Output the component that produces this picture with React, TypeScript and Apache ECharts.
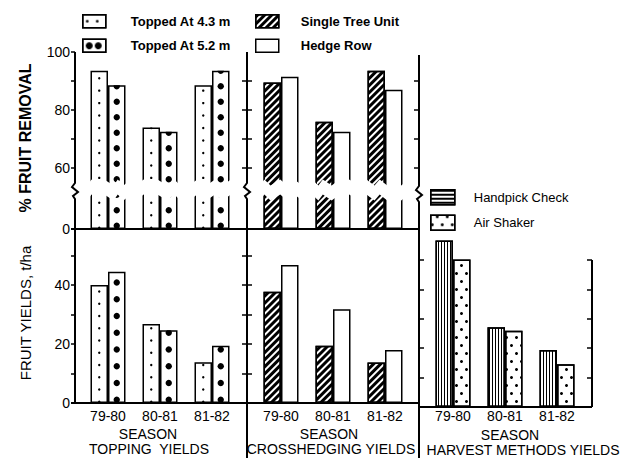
import React, { useEffect, useRef } from 'react';
import * as echarts from 'echarts';

// ---------- data ----------
const seasons = ['79-80', '80-81', '81-82'];

const N43 = 'Topped At 4.3 m';
const N52 = 'Topped At 5.2 m';
const NST = 'Single Tree Unit';
const NHR = 'Hedge Row';
const NHP = 'Handpick Check';
const NAS = 'Air Shaker';

// % fruit removal
const removalTopped43 = [93.5, 74, 88.5];
const removalTopped52 = [88.5, 72.5, 93.5];
const removalSingleTree = [89.5, 76, 93.5];
const removalHedgeRow = [91.5, 72.5, 87];

// fruit yields, t/ha
const yieldTopped43 = [40, 26.8, 13.8];
const yieldTopped52 = [44.5, 24.7, 19.4];
const yieldSingleTree = [37.7, 19.4, 13.7];
const yieldHedgeRow = [46.8, 31.8, 18];
const yieldHandpick = [56.6, 27.1, 19.4];
const yieldAirShaker = [50.2, 25.9, 14.5];

// ticks / labels
const removalLabels = [0, 60, 80, 100];
const removalTicks = [60, 70, 80, 90, 100];
const removalDividerTicks = [60, 70, 80, 90];
const yieldLabels = [0, 20, 40];
const yieldTicks = [10, 20, 30, 40, 50];

// ---------- styles ----------
const FONT = '"Liberation Sans", Arial, sans-serif';
const BLACK = '#000';

const hatchDecal = {
  symbol: 'rect', symbolSize: 1, color: BLACK, backgroundColor: '#fff',
  dashArrayX: [1, 0], dashArrayY: [3, 2], rotation: -Math.PI / 4,
};
const vlineDecal = {
  symbol: 'rect', symbolSize: 1, color: BLACK, backgroundColor: '#fff',
  dashArrayX: [1, 2], dashArrayY: [1, 0],
};
const hlineDecal = {
  symbol: 'rect', symbolSize: 1, color: BLACK, backgroundColor: '#fff',
  dashArrayX: [1, 0], dashArrayY: [2, 2],
};
const shakerDecal = {
  symbol: 'circle', symbolSize: 1, color: BLACK, backgroundColor: '#fff',
  dashArrayX: [[3, 7], [0, 5, 3, 2]], dashArrayY: [3, 5],
};
const legend43Decal = {
  symbol: 'circle', symbolSize: 0.9, color: BLACK, backgroundColor: '#fff',
  dashArrayX: [[0, 3, 3, 4]], dashArrayY: [0, 5, 3, 5],
};
const legend52Decal = {
  symbol: 'circle', symbolSize: 1, color: BLACK, backgroundColor: '#fff',
  dashArrayX: [[0, 3, 7, 2, 7, 4]], dashArrayY: [0, 3, 7, 3],
};

const whiteItem = { color: '#fff', borderColor: BLACK, borderWidth: 1.5 };
const BAR_W = 17.5;

const removalBreaks = [{ start: 11, end: 55, gap: 5 }];
const breakArea = {
  show: true,
  itemStyle: { color: '#fff', borderWidth: 0, opacity: 1 },
  zigzagAmplitude: 3,
  zigzagMinSpan: 4,
  zigzagMaxSpan: 10,
  zigzagZ: 50,
  expandOnClick: false,
};

function yAx(gridIndex: number, position: string, offset: number, extra: any) {
  return {
    type: 'value', gridIndex, position, offset,
    axisLine: { show: false }, splitLine: { show: false },
    axisLabel: { show: false },
    axisTick: { show: false },
    ...extra,
  };
}
function ticks(values: number[], inside: boolean, length = 5) {
  return { show: true, inside, length, customValues: values, lineStyle: { color: BLACK, width: 1.5 } };
}
function labels(values: number[]) {
  return { show: true, customValues: values, fontSize: 14, color: BLACK, fontFamily: FONT, margin: 5 };
}

function topAxis(gridIndex: number, position: string, offset: number, extra: any, withArea: boolean) {
  return yAx(gridIndex, position, offset, {
    min: 0, max: 100, breaks: removalBreaks,
    breakArea: withArea ? breakArea : { show: false },
    ...extra,
  });
}

function dots(name: string, data: number[], xi: number, yi: number, size: number, margin: number) {
  return {
    type: 'pictorialBar', name, data, xAxisIndex: xi, yAxisIndex: yi,
    symbol: 'circle', symbolSize: [size, size], symbolRepeat: true, symbolMargin: margin,
    symbolPosition: 'start', symbolClip: true,
    barWidth: BAR_W, barGap: '0%', z: 3,
    itemStyle: { color: BLACK },
  };
}
function bar(name: string, data: number[], xi: number, yi: number, item: any, clip = true) {
  return {
    type: 'bar', name, data, xAxisIndex: xi, yAxisIndex: yi,
    barWidth: BAR_W, barGap: '0%', clip, itemStyle: item,
  };
}

// ---------- frame geometry (non-data decoration) ----------
const TOP = 52, Y0_TOP = 229, Y0_BOT = 403, Y0_HARV = 407, BOTTOM = 458;
const XL = 75, XD1 = 247, XD2 = 419, XR = 592;

function squiggleAxis(x: number, y1: number, y2: number, s: number) {
  return [[x, y1], [x, s], [x - 3, s + 4], [x + 3, s + 9], [x - 2, s + 13], [x, s + 16], [x, y2]];
}
const lineStyle = { stroke: BLACK, lineWidth: 2, fill: null };

function txt(x: number, y: number, text: string, font: string, rotation = 0) {
  return {
    type: 'text', x, y, rotation, silent: true,
    style: { text, font, fill: BLACK, textAlign: 'center', align: 'center', textVerticalAlign: 'middle', verticalAlign: 'middle' },
  };
}

const xLabel = (margin: number) => ({ fontSize: 14, color: BLACK, fontFamily: FONT, margin });

const option: any = {
  animation: false,
  backgroundColor: '#fff',
  textStyle: { fontFamily: FONT, color: BLACK },
  legend: [
    {
      data: [N43, N52], orient: 'vertical', left: 82, top: 14, padding: 0,
      itemWidth: 23, itemHeight: 13, itemGap: 10, icon: 'rect', selectedMode: false,
      itemStyle: { borderColor: BLACK, borderWidth: 1.5 },
      textStyle: { fontSize: 13, fontWeight: 'bold', color: BLACK, fontFamily: FONT, padding: [0, 0, 0, 20] },
    },
    {
      data: [NST, NHR], orient: 'vertical', left: 255, top: 14, padding: 0,
      itemWidth: 23, itemHeight: 13, itemGap: 10, icon: 'rect', selectedMode: false,
      itemStyle: { borderColor: BLACK, borderWidth: 1.5 },
      textStyle: { fontSize: 13, fontWeight: 'bold', color: BLACK, fontFamily: FONT, padding: [0, 0, 0, 17] },
    },
    {
      data: [NHP, NAS], orient: 'vertical', left: 430, top: 189, padding: 0,
      itemWidth: 24, itemHeight: 15, itemGap: 9, icon: 'rect', selectedMode: false,
      itemStyle: { borderColor: BLACK, borderWidth: 1.5 },
      textStyle: { fontSize: 13, color: BLACK, fontFamily: FONT, padding: [0, 0, 0, 14] },
    },
  ],
  grid: [
    { left: 82, top: TOP, width: 156, height: Y0_TOP - TOP },
    { left: 255, top: TOP, width: 156, height: Y0_TOP - TOP },
    { left: 82, top: Y0_TOP, width: 156, height: Y0_BOT - Y0_TOP },
    { left: 255, top: Y0_TOP, width: 156, height: Y0_BOT - Y0_TOP },
    { left: 427, top: 260, width: 156, height: Y0_HARV - 260 },
    { left: 0, top: 0, width: 1, height: 1 },
  ],
  xAxis: [
    { type: 'category', gridIndex: 0, data: seasons, show: false },
    { type: 'category', gridIndex: 1, data: seasons, show: false },
    { type: 'category', gridIndex: 2, data: seasons, axisLine: { show: false }, axisTick: { show: false }, axisLabel: xLabel(6) },
    { type: 'category', gridIndex: 3, data: seasons, axisLine: { show: false }, axisTick: { show: false }, axisLabel: xLabel(6) },
    { type: 'category', gridIndex: 4, data: seasons, axisLine: { show: false }, axisTick: { show: false }, axisLabel: xLabel(2) },
    { type: 'category', gridIndex: 5, data: seasons, show: false },
  ],
  yAxis: [
    topAxis(0, 'left', 7, { axisLabel: labels(removalLabels), axisTick: ticks(removalTicks, false, 4) }, true), // 0
    topAxis(0, 'right', 9, { axisTick: ticks(removalDividerTicks, true) }, false), // 1
    topAxis(1, 'left', 8, { axisTick: ticks(removalDividerTicks, true) }, true), // 2
    topAxis(1, 'right', 8, { axisTick: ticks(removalDividerTicks, true) }, false), // 3
    yAx(2, 'left', 7, { min: 0, max: 59, axisLabel: labels(yieldLabels), axisTick: ticks(yieldTicks, false, 4) }), // 4
    yAx(2, 'right', 9, { min: 0, max: 59, axisTick: ticks(yieldTicks, true) }), // 5
    yAx(3, 'left', 8, { min: 0, max: 59, axisTick: ticks(yieldTicks, true) }), // 6
    yAx(4, 'left', 8, { min: 0, max: 50, axisTick: ticks(yieldTicks, true) }), // 7
    yAx(4, 'right', 9, { min: 0, max: 50, axisTick: ticks(yieldTicks, true) }), // 8
    { type: 'value', gridIndex: 5, show: false }, // 9
  ],
  series: [
    // legend swatches
    { type: 'bar', name: N43, data: [], xAxisIndex: 5, yAxisIndex: 9, itemStyle: { ...whiteItem, decal: legend43Decal } },
    { type: 'bar', name: N52, data: [], xAxisIndex: 5, yAxisIndex: 9, itemStyle: { ...whiteItem, decal: legend52Decal } },
    { type: 'bar', name: NST, data: [], xAxisIndex: 5, yAxisIndex: 9, itemStyle: { ...whiteItem, decal: hatchDecal } },
    { type: 'bar', name: NHR, data: [], xAxisIndex: 5, yAxisIndex: 9, itemStyle: { ...whiteItem } },
    { type: 'bar', name: NHP, data: [], xAxisIndex: 5, yAxisIndex: 9, itemStyle: { ...whiteItem, decal: hlineDecal } },
    { type: 'bar', name: NAS, data: [], xAxisIndex: 5, yAxisIndex: 9, itemStyle: { ...whiteItem, decal: shakerDecal } },

    // topping: % fruit removal
    bar(N43, removalTopped43, 0, 0, whiteItem),
    bar(N52, removalTopped52, 0, 0, whiteItem),
    dots(N43, removalTopped43, 0, 0, 2.5, 5),
    dots(N52, removalTopped52, 0, 0, 6.5, 5.2),
    // crosshedging: % fruit removal
    bar(NST, removalSingleTree, 1, 2, { ...whiteItem, decal: hatchDecal }),
    bar(NHR, removalHedgeRow, 1, 2, whiteItem),

    // topping yields
    bar(N43, yieldTopped43, 2, 4, whiteItem),
    bar(N52, yieldTopped52, 2, 4, whiteItem),
    dots(N43, yieldTopped43, 2, 4, 2.5, 5),
    dots(N52, yieldTopped52, 2, 4, 6.5, 5.2),
    // crosshedging yields
    bar(NST, yieldSingleTree, 3, 6, { ...whiteItem, decal: hatchDecal }),
    bar(NHR, yieldHedgeRow, 3, 6, whiteItem),
    // harvest method yields
    bar(NHP, yieldHandpick, 4, 7, { ...whiteItem, decal: vlineDecal }, false),
    bar(NAS, yieldAirShaker, 4, 7, { ...whiteItem, decal: shakerDecal }, false),
  ],
  graphic: [
    { type: 'polyline', silent: true, shape: { points: squiggleAxis(XL, TOP, Y0_BOT, 183) }, style: lineStyle },
    { type: 'polyline', silent: true, shape: { points: squiggleAxis(XD1, TOP, BOTTOM, 183) }, style: lineStyle },
    { type: 'polyline', silent: true, shape: { points: squiggleAxis(XD2, 55, BOTTOM, 186) }, style: lineStyle },
    { type: 'line', silent: true, shape: { x1: XR, y1: 260, x2: XR, y2: Y0_HARV }, style: lineStyle },
    { type: 'line', silent: true, shape: { x1: 71, y1: Y0_TOP, x2: XD2, y2: Y0_TOP }, style: lineStyle },
    { type: 'line', silent: true, shape: { x1: 71, y1: Y0_BOT, x2: XD2, y2: Y0_BOT }, style: lineStyle },
    { type: 'line', silent: true, shape: { x1: XD2, y1: Y0_HARV, x2: XR, y2: Y0_HARV }, style: lineStyle },
    txt(25, 138, '% FRUIT REMOVAL', `bold 16px ${FONT}`, Math.PI / 2),
    txt(25, 313, 'FRUIT YIELDS, t/ha', `15px ${FONT}`, Math.PI / 2),
    txt(148, 434, 'SEASON', `14px ${FONT}`),
    txt(149, 449, 'TOPPING  YIELDS', `14px ${FONT}`),
    txt(329, 434, 'SEASON', `14px ${FONT}`),
    txt(331, 449, 'CROSSHEDGING YIELDS', `14px ${FONT}`),
    txt(510, 435, 'SEASON', `14px ${FONT}`),
    txt(523, 450, 'HARVEST METHODS YIELDS', `14px ${FONT}`),
  ],
};

export default function App() {
  const ref = useRef<HTMLDivElement>(null);
  useEffect(() => {
    const chart = echarts.init(ref.current!, null, { renderer: 'svg' });
    chart.setOption(option);
    return () => chart.dispose();
  }, []);
  return <div ref={ref} style={{ position: 'absolute', left: 0, top: 0, width: 622, height: 458 }} />;
}
